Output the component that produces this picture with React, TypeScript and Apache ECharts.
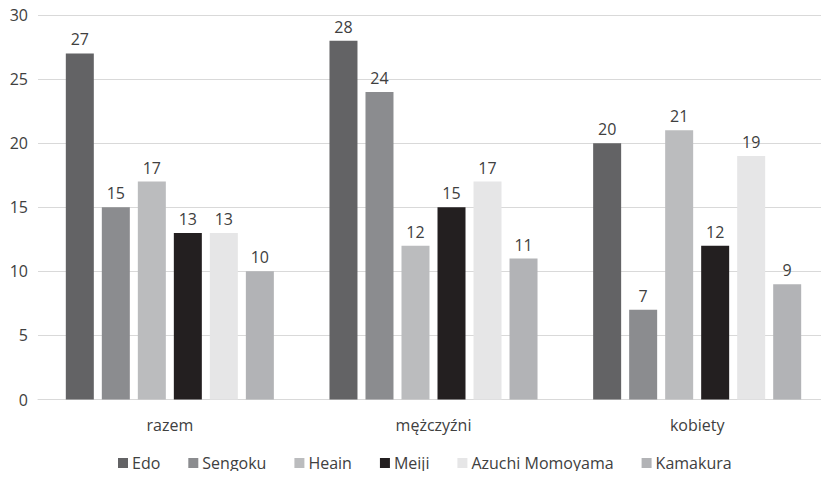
import React, { useEffect, useRef } from "react";
import * as echarts from "echarts";

const categories = ["razem", "mężczyźni", "kobiety"];
const seriesNames = ["Edo", "Sengoku", "Heain", "Meiji", "Azuchi Momoyama", "Kamakura"];
const edo = [27, 28, 20];
const sengoku = [15, 24, 7];
const heain = [17, 12, 21];
const meiji = [13, 15, 12];
const azuchi = [13, 17, 19];
const kamakura = [10, 11, 9];
const seriesData = [edo, sengoku, heain, meiji, azuchi, kamakura];
const colors = ["#636365", "#8b8c8f", "#bbbcbe", "#231f20", "#e6e6e7", "#b2b3b6"];

const FONT = "'Open Sans', sans-serif";
const TXT = "#404040";
const FS = 16;

export default function App() {
  const ref = useRef<HTMLDivElement>(null);
  useEffect(() => {
    if (!ref.current) return;
    const chart = echarts.init(ref.current, undefined, { renderer: "svg" });
    chart.setOption({
      animation: false,
      color: colors,
      grid: { left: 38, width: 804, top: 15, bottom: 79.5, containLabel: false },
      legend: {
        top: 455,
        left: 118,
        padding: 0,
        itemWidth: 10,
        itemHeight: 10,
        itemGap: 28,
        icon: "rect",
        textStyle: { fontFamily: FONT, fontSize: FS, color: TXT, padding: [0, 0, 0, -1] },
        data: seriesNames,
      },
      xAxis: {
        type: "category",
        data: categories,
        axisLine: { lineStyle: { color: "#d9d9d9", width: 1 } },
        axisTick: { show: false },
        axisLabel: { fontFamily: FONT, fontSize: FS, color: TXT, margin: 17 },
      },
      yAxis: {
        type: "value",
        min: 0,
        max: 30,
        interval: 5,
        axisLine: { show: false },
        axisTick: { show: false },
        splitLine: { lineStyle: { color: "#d9d9d9", width: 1 } },
        axisLabel: { fontFamily: FONT, fontSize: FS, color: TXT, margin: 10 },
      },
      series: seriesNames.map((name, i) => ({
        name,
        type: "bar",
        data: seriesData[i],
        barWidth: 28,
        barGap: "28.6%",
        itemStyle: { color: colors[i] },
        label: {
          show: true,
          position: "top",
          distance: 6,
          fontFamily: FONT,
          fontSize: FS,
          color: TXT,
        },
      })),
    });
    return () => chart.dispose();
  }, []);
  return <div ref={ref} style={{ width: 829, height: 479, margin: -8 }} />;
}
